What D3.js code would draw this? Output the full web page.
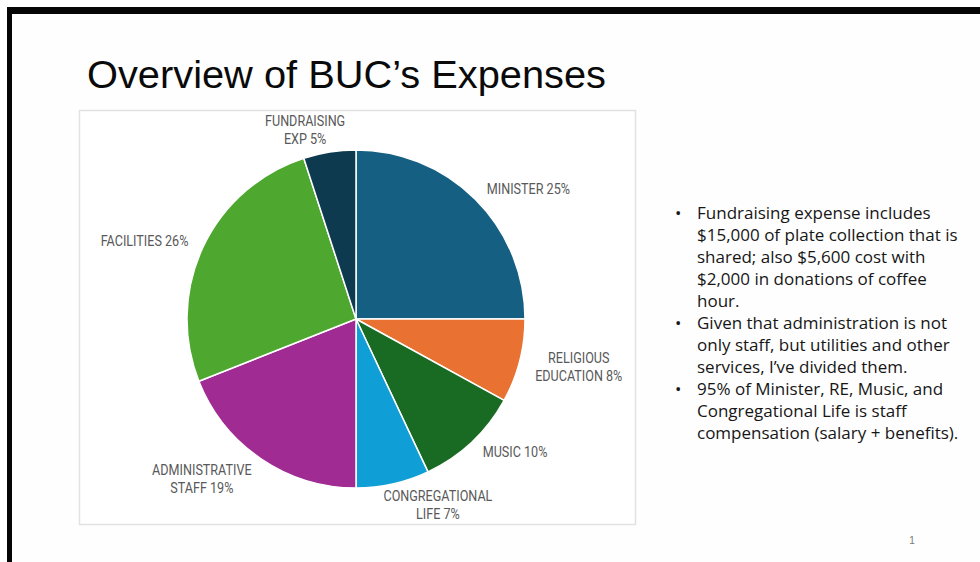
<!DOCTYPE html>
<html><head><meta charset="utf-8">
<script src="https://cdn.jsdelivr.net/npm/d3@7/dist/d3.min.js"></script>
<style>html,body{margin:0;padding:0;background:#fff;overflow:hidden} svg{display:block}</style>
</head><body>
<svg id="chart" width="980" height="562"></svg>
<script>
// ---- data ----
const title = "Overview of BUC\u2019s Expenses";
const categoryLines = [["MINISTER"],["RELIGIOUS","EDUCATION"],["MUSIC"],["CONGREGATIONAL","LIFE"],["ADMINISTRATIVE","STAFF"],["FACILITIES"],["FUNDRAISING","EXP"]];
const values = [25, 8, 10, 7, 19, 26, 5];
const colors = ["#156082","#E97132","#196B24","#0F9ED5","#A02B93","#4EA72E","#0E3A50"];
const bullets = [
  ["Fundraising expense includes","$15,000 of plate collection that is","shared; also $5,600 cost with","$2,000 in donations of coffee","hour."],
  ["Given that administration is not","only staff, but utilities and other","services, I\u2019ve divided them."],
  ["95% of Minister, RE, Music, and","Congregational Life is staff","compensation (salary + benefits)."]
];
const pageNumber = "1";

// ---- drawing ----
const svg = d3.select("#chart");
svg.append("rect").attr("width",980).attr("height",562).attr("fill","#fefefe");
// slide frame (black edges)
svg.append("rect").attr("x",7).attr("y",7).attr("width",973).attr("height",7).attr("fill","#050505");
svg.append("rect").attr("x",7).attr("y",7).attr("width",5).attr("height",555).attr("fill","#050505");

// title
svg.append("text").attr("x",87).attr("y",88)
  .attr("font-family","'Liberation Sans', Arial, sans-serif").attr("font-size",39)
  .attr("fill","#0a0a0a").attr("textLength",519).attr("lengthAdjust","spacingAndGlyphs")
  .text(title);

// chart box
svg.append("rect").attr("x",79.5).attr("y",110.5).attr("width",556).attr("height",414)
  .attr("fill","#ffffff").attr("stroke","#e2e2e2").attr("stroke-width",1.5);

const cx = 356, cy = 319, R = 169;
const g = svg.append("g").attr("transform",`translate(${cx},${cy})`);
const pie = d3.pie().sort(null).value(d=>d)(values);
const arc = d3.arc().innerRadius(0).outerRadius(R);
g.selectAll("path.slice").data(pie).join("path").attr("class","slice")
  .attr("d",arc).attr("fill",(d,i)=>colors[i])
  .attr("stroke","#ffffff").attr("stroke-width",1.5).attr("stroke-linejoin","round");

// data labels placed outside the pie, box anchored toward the slice's mid angle
const clamp = v => Math.max(-1, Math.min(1, v));
const lab = g.selectAll("g.lab").data(pie).join("g").attr("class","lab");
lab.each(function(d,i){
  const t = d3.select(this).append("text")
    .attr("font-family","Roboto,'Liberation Sans',Arial,sans-serif")
    .attr("transform","scale(0.9,1)")
    .attr("font-size",14).attr("fill","#595959").attr("text-anchor","middle");
  const lines = categoryLines[i].slice();
  lines[lines.length-1] = lines[lines.length-1] + " " + d3.format(".0f")(values[i]) + "%";
  lines.forEach((ln,j)=>{
    t.append("tspan").attr("x",0).attr("y",j*18).text(ln);
  });
  const bb = this.getBBox();
  const a = (d.startAngle + d.endAngle)/2;
  const ax = Math.sin(a)*(R + 16), ay = -Math.cos(a)*(R + 5);
  const ccx = ax + clamp(Math.sin(a)*3.5)*bb.width/2;
  const ccy = ay + clamp(-Math.cos(a)*1.2)*bb.height/2;
  const bx = bb.x + bb.width/2, by = bb.y + bb.height/2;
  d3.select(this).attr("transform",`translate(${ccx-bx},${ccy-by})`);
});

// bullet text
const tb = svg.append("g").attr("font-family","'Open Sans', Arial, sans-serif")
  .attr("font-size",17).attr("fill","#161616");
let row = 0;
bullets.forEach(b=>{
  tb.append("text").attr("x",675).attr("y",219+row*22).text("\u2022");
  b.forEach(ln=>{
    tb.append("text").attr("x",697).attr("y",219+row*22).text(ln);
    row++;
  });
});

svg.append("text").attr("x",912).attr("y",544).attr("text-anchor","middle")
  .attr("font-family","'Liberation Sans', Arial, sans-serif").attr("font-size",10).attr("fill","#777")
  .text(pageNumber);
</script>
</body></html>
